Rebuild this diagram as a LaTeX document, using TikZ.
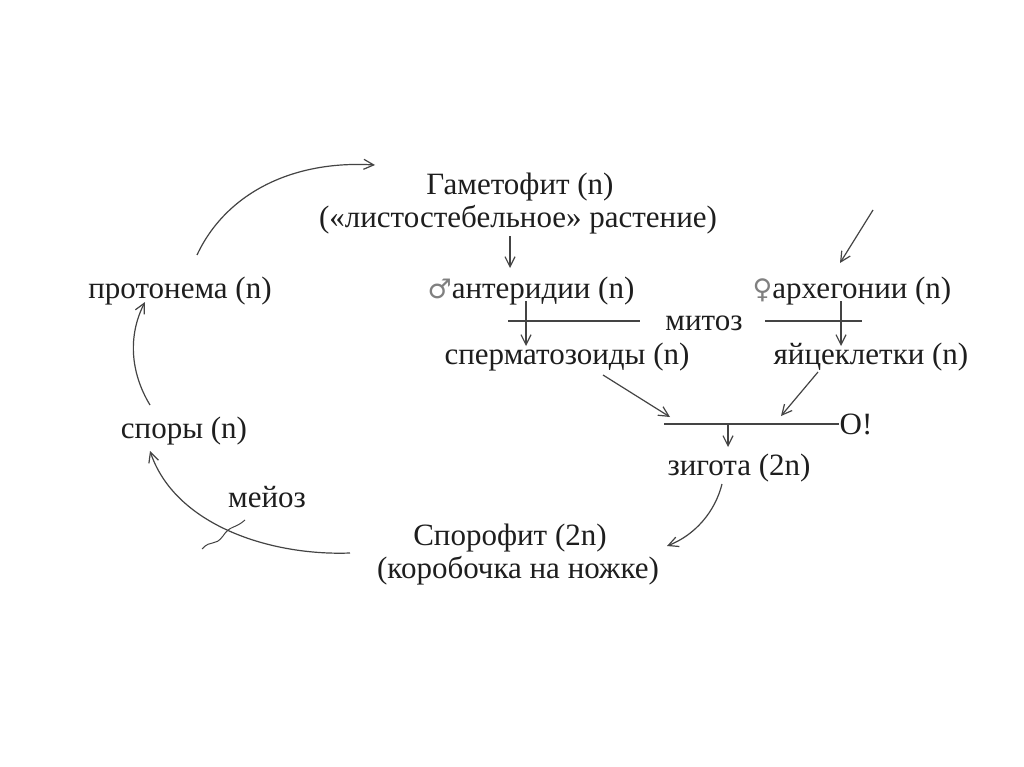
\documentclass[tikz,border=0pt]{standalone}
\usepackage{fontspec}
\setmainfont{Liberation Serif}
\newfontfamily\symf{DejaVu Sans}
\usetikzlibrary{arrows.meta,calc}
\definecolor{ink}{HTML}{1E1E1E}
\definecolor{lin}{HTML}{444444}
\tikzset{
  lbl/.style={inner sep=0pt, text=ink, font=\fontsize{31}{36}\selectfont, anchor=base},
  arr/.style={draw=lin, line width=1.2pt, -{Straight Barb[length=10pt,width=10pt,line width=1.2pt]}},
  ln/.style={draw=lin, line width=1.2pt},
}
\begin{document}
\begin{tikzpicture}[x=1pt,y=-1pt]
\useasboundingbox (0,0) rectangle (1024,767);
\fill[white] (0,0) rectangle (1024,767);
% texts (base line positions)
\node[lbl] (gam) at (520,195) {Гаметофит (n)};
\node[lbl] (gam2) at (518,228) {(«листостебельное» растение)};
\node[lbl] (prot) at (180,298) {протонема (n)};
\node[lbl] (ant) at (531,298) {{\symf\fontsize{27}{30}\selectfont\color{gray}♂}антеридии (n)};
\node[lbl] (arch) at (852,298) {{\symf\fontsize{27}{30}\selectfont\color{gray}♀}архегонии (n)};
\node[lbl] (mit) at (704,330) {митоз};
\node[lbl] (sperm) at (567,364) {сперматозоиды (n)};
\node[lbl] (egg) at (871,364) {яйцеклетки (n)};
\node[lbl] (spor) at (184,438) {споры (n)};
\node[lbl] (O) at (856,434) {O!};
\node[lbl] (zyg) at (739,475) {зигота (2n)};
\node[lbl] (mei) at (267,507) {мейоз};
\node[lbl] (sph) at (510,545) {Спорофит (2n)};
\node[lbl] (sph2) at (518,578) {(коробочка на ножке)};
% connector end points
\coordinate (gamOut) at (510,236);
\coordinate (antIn) at (510,268);
\coordinate (inA) at (873,210);
\coordinate (archIn) at (840,263);
\coordinate (antOut) at (526,301);
\coordinate (spermIn) at (526,346);
\coordinate (archOut) at (841,301);
\coordinate (eggIn) at (841,346);
\coordinate (spermOut) at (603,375);
\coordinate (fzL) at (670,417);
\coordinate (eggOut) at (818,372);
\coordinate (fzR) at (781,416);
\coordinate (fLineL) at (664,424);
\coordinate (fz) at (728,424);
\coordinate (zygIn) at (728,447);
\coordinate (zygOut) at (722,484);
\coordinate (sphIn) at (667,546);
\coordinate (sphOut) at (350,553);
\coordinate (sporIn) at (150,451);
\coordinate (sporOut) at (150,405);
\coordinate (protIn) at (145,302);
\coordinate (protOut) at (197,255);
\coordinate (gamIn) at (375,165);
% mitosis lines
\draw[ln] (508,321) -- (640,321);
\draw[ln] (765,321) -- (862,321);
% fertilisation line
\draw[ln] (fLineL) -- (O.west |- fLineL);
% arrows
\draw[arr] (gamOut) -- (antIn);
\draw[arr] (inA) -- (archIn);
\draw[arr] (antOut) -- (spermIn);
\draw[arr] (archOut) -- (eggIn);
\draw[arr] (spermOut) -- (fzL);
\draw[arr] (eggOut) -- (fzR);
\draw[arr] (fz) -- (zygIn);
% cycle
\draw[arr] (zygOut) .. controls (715,512) and (695,535) .. (sphIn);
\draw[arr] (sphOut) .. controls (270,556) and (175,525) .. (sporIn);
\draw[arr] (sporOut) .. controls (130,372) and (128,335) .. (protIn);
\draw[arr] (protOut) .. controls (225,195) and (290,160) .. (gamIn);
% meiosis squiggle
\draw[ln, line width=1pt] (202,549) .. controls (211,539) and (215,547) .. (223,536) .. controls (230,525) and (235,529) .. (245,520);
\end{tikzpicture}
\end{document}
